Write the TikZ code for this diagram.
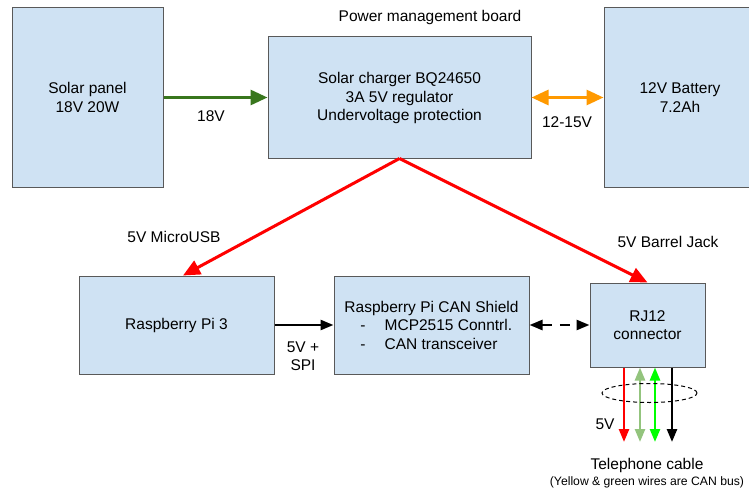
\documentclass[tikz,border=0pt]{standalone}
\usepackage{fontspec}
\setmainfont{Liberation Sans}
\usetikzlibrary{arrows.meta,calc}
\definecolor{boxfill}{HTML}{CFE2F3}
\definecolor{boxline}{HTML}{595959}
\definecolor{dkgreen}{HTML}{38761D}
\definecolor{orng}{HTML}{FF9900}
\definecolor{palegreen}{HTML}{93C47D}
\definecolor{brgreen}{HTML}{00FF00}
\begin{document}
\begin{tikzpicture}[x=1pt,y=-1pt,
  box/.style={draw=boxline, fill=boxfill, line width=1pt, align=center, inner sep=0pt,
    font=\fontsize{15.5}{18.5}\selectfont},
  lbl/.style={font=\fontsize{15.5}{18.5}\selectfont, align=center, inner sep=0pt},
  bighead/.style={-{Triangle[length=17pt,width=15pt]}},
  bigheads/.style={{Triangle[length=17pt,width=15pt]}-{Triangle[length=17pt,width=15pt]}},
  smallhead/.style={-{Triangle[length=13pt,width=10pt]}},
  smallheads/.style={{Triangle[length=13pt,width=10pt]}-{Triangle[length=13pt,width=10pt]}},
  power/.style={line width=3pt},
  wire/.style={line width=2.5pt}]
\useasboundingbox (0,0) rectangle (749,492);
\fill[white] (0,0) rectangle (749,492);

% boxes
\node[box, minimum width=151pt, minimum height=179pt] (solar) at (87.5,97.5) {Solar panel\\18V 20W};
\node[box, minimum width=263pt, minimum height=121pt, anchor=center] (chg) at (399.5,97.5) {};
\node[lbl] (chgtxt) at (399.5,98) {Solar charger BQ24650\\3A 5V regulator\\Undervoltage protection};
\node[box, minimum width=152pt, minimum height=179pt] (bat) at (680,97.5) {12V Battery\\7.2Ah};
\node[box, minimum width=195pt, minimum height=98pt] (rpi) at (176.5,325) {Raspberry Pi 3};
\node[box, minimum width=195pt, minimum height=98pt, align=left] (can) at (431.5,325)
  {Raspberry Pi CAN Shield\\\hspace*{16pt}-\hspace{19pt}MCP2515 Conntrl.\\\hspace*{16pt}-\hspace{19pt}CAN transceiver};
\node[box, minimum width=115pt, minimum height=84pt] (rj) at (647.5,325) {RJ12\\connector};

% labels
\node[lbl] (pmb) at (430,17) {Power management board};
\node[lbl] (l18) at (211,116) {18V};
\node[lbl] (l1215) at (567,122) {12-15V};
\node[lbl] (lusb) at (174,237) {5V MicroUSB};
\node[lbl] (lbarrel) at (668,242) {5V Barrel Jack};
\node[lbl] (lspi) at (303,356) {5V +\\SPI};
\node[lbl] (l5v) at (605,424) {5V};
\node[lbl] (ltel) at (647,465) {Telephone cable};
\node[lbl, font=\fontsize{12.2}{14}\selectfont] (lcan) at (647,482) {(Yellow \& green wires are CAN bus)};

% connectors
\draw[power, dkgreen, bighead] (solar.east) -- (chg.west);
\draw[power, orng, bigheads] (chg.east) -- (bat.west);
\draw[power, red, bighead] (chg.south) -- ([xshift=6.5pt]rpi.north);
\draw[power, red, bighead] (chg.south) -- (rj.north);
\draw[wire, black, smallhead] (rpi.east) -- (can.west);
\draw[wire, black, smallheads, dash pattern=on 10pt off 8pt] (can.east) -- (rj.west);

% wires
\coordinate (w1) at (624,442);
\coordinate (w2) at (640,442);
\coordinate (w3) at (655,442);
\coordinate (w4) at (672,442);
\draw[wire, red, smallhead] (rj.south -| w1) -- (w1);
\draw[wire, palegreen, smallheads] (rj.south -| w2) -- (w2);
\draw[wire, brgreen, smallheads] (rj.south -| w3) -- (w3);
\draw[wire, black, smallhead] (rj.south -| w4) -- (w4);
\draw[black, line width=1pt, dash pattern=on 4pt off 3pt] (649.5,393) ellipse [x radius=47.5pt, y radius=9.5pt];
\end{tikzpicture}
\end{document}
